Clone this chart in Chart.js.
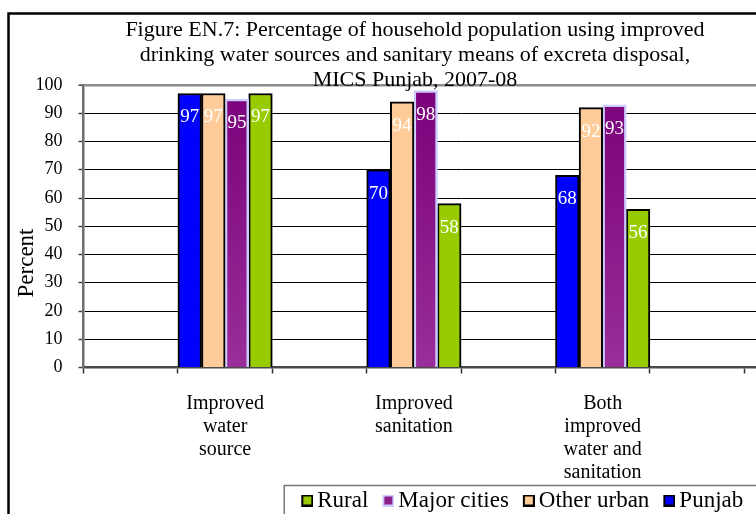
<!DOCTYPE html>
<html>
<head>
<meta charset="utf-8">
<title>Figure EN.7</title>
<script src="https://cdn.jsdelivr.net/npm/chart.js@4/dist/chart.umd.min.js"></script>
<style>
  html, body { margin: 0; padding: 0; background: #fff; overflow: hidden; width: 756px; height: 514px; }
  #wrap { position: absolute; left: 0; top: 0; width: 1038px; height: 522px; }
</style>
</head>
<body>
<div id="wrap"><canvas id="chart" width="1038" height="522"></canvas></div>
<script>
// Indicators shown on the category axis
const indicators = [
  ['Improved', 'water', 'source'],
  ['Improved', 'sanitation'],
  ['Both', 'improved', 'water and', 'sanitation']
];
// Percentages per area
const punjab      = [97, 70, 68];
const otherUrban  = [97, 94, 92];
const majorCities = [95, 98, 93];
const rural       = [97, 58, 56];
// Value axis ticks
const yTicks = [0, 10, 20, 30, 40, 50, 60, 70, 80, 90, 100];

const titleLines = [
  'Figure EN.7: Percentage of household population using improved',
  'drinking water sources and sanitary means of excreta disposal,',
  'MICS Punjab, 2007-08'
];
const yTitle = 'Percent';

// The category axis alternates empty slots with the indicator groups
const SLOTS = 8;
const groupSlots = [1, 3, 5];
const labels = Array.from({length: SLOTS}, () => '');
groupSlots.forEach((s, i) => { labels[s] = indicators[i]; });
function spread(values) {
  const out = Array.from({length: SLOTS}, () => null);
  groupSlots.forEach((s, i) => { out[s] = values[i]; });
  return out;
}

const FONT = 'Liberation Serif';
Chart.defaults.font.family = FONT;
Chart.defaults.color = '#000';

const W = 1038;
const PLOT_LEFT = 83.5;
const SLOT_W = 94.4;
const PLOT_RIGHT = PLOT_LEFT + SLOTS * SLOT_W;

function purpleFill(ctx) {
  const area = ctx.chart.chartArea;
  if (!area) return '#800080';
  const g = ctx.chart.ctx.createLinearGradient(0, area.top, 0, area.bottom);
  g.addColorStop(0, '#7a007a');
  g.addColorStop(1, '#9a2e9a');
  return g;
}

// Legend swatch: a bordered square sitting at the right end of a wider transparent image
function marker(fill, stroke) {
  const c = document.createElement('canvas');
  c.width = 26; c.height = 12;
  const x = c.getContext('2d');
  x.fillStyle = fill;
  x.fillRect(14.5, 0.5, 11, 11);
  x.strokeStyle = stroke;
  x.lineWidth = 2;
  x.strokeRect(15, 1, 10, 10);
  return c;
}

const legendEntries = [
  {text: 'Rural',        img: marker('#99cc00', '#000'),    ds: 3},
  {text: 'Major cities', img: marker('#8a1f8a', '#ccccff'), ds: 2},
  {text: 'Other urban',  img: marker('#ffcc99', '#000'),    ds: 1},
  {text: 'Punjab',       img: marker('#0000ff', '#000'),    ds: 0}
];

const framePlugin = {
  id: 'frame',
  beforeDraw(chart) {
    const c = chart.ctx;
    c.save();
    c.fillStyle = '#fff';
    c.fillRect(0, 0, chart.width, chart.height);
    c.strokeStyle = '#000';
    c.lineWidth = 2.5;
    c.beginPath();
    c.moveTo(8.5, chart.height + 5);
    c.lineTo(8.5, 13.5);
    c.lineTo(chart.width + 5, 13.5);
    c.stroke();
    const lg = chart.legend;
    if (lg && lg.legendHitBoxes && lg.legendHitBoxes.length) {
      const b = lg.legendHitBoxes[0];
      const x = b.left - 10.5;
      const y = b.top + b.height / 2 - 15;
      c.strokeStyle = '#777';
      c.lineWidth = 1.5;
      c.beginPath();
      c.moveTo(x, chart.height + 5);
      c.lineTo(x, y);
      c.lineTo(chart.width + 5, y);
      c.stroke();
    }
    c.restore();
  }
};

const valueLabels = {
  id: 'valueLabels',
  afterDatasetsDraw(chart) {
    const c = chart.ctx;
    c.save();
    c.font = '19px "' + FONT + '"';
    c.fillStyle = '#fff';
    c.textAlign = 'center';
    c.textBaseline = 'middle';
    chart.data.datasets.forEach((ds, i) => {
      const meta = chart.getDatasetMeta(i);
      meta.data.forEach((el, j) => {
        const v = ds.data[j];
        if (v === null || v === undefined) return;
        c.fillText(String(v), el.x, el.y + 24);
      });
    });
    c.restore();
  }
};

const textPlugin = {
  id: 'texts',
  afterDraw(chart) {
    const c = chart.ctx;
    c.save();
    c.fillStyle = '#000';
    c.textAlign = 'center';
    c.textBaseline = 'middle';
    c.font = '22px "' + FONT + '"';
    titleLines.forEach((t, i) => c.fillText(t, 415, 30 + i * 25));
    c.translate(27, 263);
    c.rotate(-Math.PI / 2);
    c.font = '23px "' + FONT + '"';
    c.fillText(yTitle, 0, 0);
    c.restore();
  }
};

new Chart(document.getElementById('chart'), {
  type: 'bar',
  data: {
    labels: labels,
    datasets: [
      {label: 'Punjab', data: spread(punjab), backgroundColor: '#0000ff', borderColor: '#000', borderWidth: 2},
      {label: 'Other urban', data: spread(otherUrban), backgroundColor: '#ffcc99', borderColor: '#000', borderWidth: 2},
      {label: 'Major cities', data: spread(majorCities), backgroundColor: purpleFill, borderColor: '#ccccff', borderWidth: 2.5},
      {label: 'Rural', data: spread(rural), backgroundColor: '#99cc00', borderColor: '#000', borderWidth: 2}
    ]
  },
  options: {
    responsive: false,
    animation: false,
    devicePixelRatio: 1,
    categoryPercentage: 1,
    barPercentage: 1,
    layout: { padding: { top: 85, left: 0, right: 0, bottom: 0 } },
    plugins: {
      title: { display: false },
      tooltip: { enabled: false },
      legend: {
        display: true,
        position: 'bottom',
        labels: {
          usePointStyle: true,
          pointStyleWidth: 11,
          padding: 7.5,
          font: { size: 23, family: FONT },
          color: '#000',
          generateLabels: () => legendEntries.map(e => ({
            text: e.text,
            pointStyle: e.img,
            fillStyle: '#000',
            strokeStyle: '#000',
            lineWidth: 0,
            hidden: false,
            datasetIndex: e.ds
          }))
        }
      }
    },
    scales: {
      x: {
        offset: true,
        grid: { display: true, offset: true, drawOnChartArea: false, drawTicks: true, tickLength: 6, tickColor: '#333', tickWidth: 1.5 },
        border: { display: true, color: '#4a4a4a', width: 2.5 },
        ticks: {
          autoSkip: false, maxRotation: 0, minRotation: 0, padding: 18.5,
          font: { size: 20, family: FONT, lineHeight: 1.15 }, color: '#000'
        },
        afterFit(s) { s.height = 114; }
      },
      y: {
        min: 0, max: 100,
        afterBuildTicks(s) { s.ticks = yTicks.map(v => ({value: v})); },
        grid: {
          color: (c) => c.tick && c.tick.value === 100 ? '#8c8c8c' : '#000',
          lineWidth: (c) => c.tick && c.tick.value === 100 ? 2.5 : 1,
          drawTicks: true, tickLength: 5, tickColor: '#444', tickWidth: 1.5
        },
        border: { display: true, color: '#6e6e6e', width: 2.5 },
        ticks: { padding: 16, font: { size: 18, family: FONT }, color: '#000' },
        afterFit(s) { s.width = PLOT_LEFT; }
      },
      pad: {
        type: 'linear', position: 'right', display: true,
        grid: { display: false, drawTicks: false },
        border: { display: false },
        ticks: { display: false },
        afterFit(s) { s.width = W - PLOT_RIGHT; }
      }
    }
  },
  plugins: [framePlugin, valueLabels, textPlugin]
});
</script>
</body>
</html>
